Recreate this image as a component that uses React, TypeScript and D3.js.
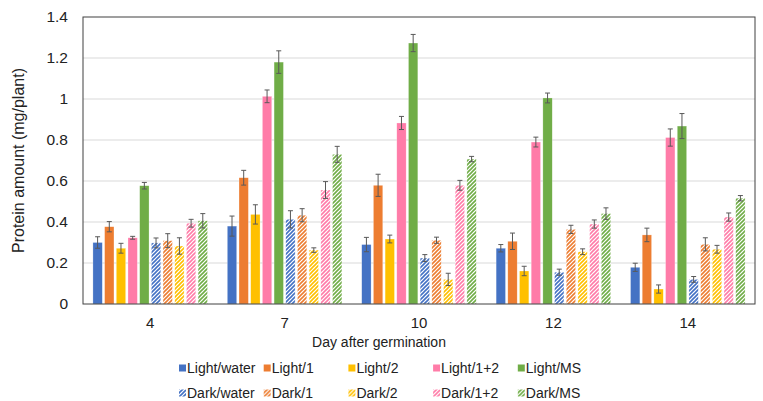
import React, { useEffect, useRef } from 'react';
import * as d3 from 'd3';

// Days on the x axis
const days = ['4', '7', '10', '12', '14'];

// Series names, in drawing order
const series = [
  'Light/water', 'Light/1', 'Light/2', 'Light/1+2', 'Light/MS',
  'Dark/water', 'Dark/1', 'Dark/2', 'Dark/1+2', 'Dark/MS',
];

// Mean protein amount (mg/plant), one row per series, one column per day
const lightWater = [0.30, 0.38, 0.29, 0.272, 0.179];
const light1 = [0.377, 0.616, 0.579, 0.306, 0.337];
const light2 = [0.272, 0.437, 0.317, 0.161, 0.073];
const light12 = [0.323, 1.013, 0.883, 0.79, 0.812];
const lightMS = [0.577, 1.18, 1.273, 1.005, 0.868];
const darkWater = [0.298, 0.413, 0.224, 0.155, 0.12];
const dark1 = [0.309, 0.433, 0.311, 0.364, 0.291];
const dark2 = [0.283, 0.263, 0.12, 0.255, 0.267];
const dark12 = [0.394, 0.556, 0.579, 0.39, 0.424];
const darkMS = [0.406, 0.73, 0.707, 0.441, 0.516];

// Error (+/-) for each bar
const errLightWater = [0.028, 0.049, 0.035, 0.018, 0.02];
const errLight1 = [0.025, 0.036, 0.054, 0.04, 0.033];
const errLight2 = [0.024, 0.047, 0.019, 0.023, 0.02];
const errLight12 = [0.007, 0.031, 0.032, 0.024, 0.042];
const errLightMS = [0.016, 0.055, 0.042, 0.024, 0.061];
const errDarkWater = [0.024, 0.042, 0.017, 0.015, 0.014];
const errDark1 = [0.034, 0.032, 0.015, 0.02, 0.032];
const errDark2 = [0.04, 0.011, 0.03, 0.014, 0.019];
const errDark12 = [0.019, 0.041, 0.024, 0.02, 0.02];
const errDarkMS = [0.035, 0.039, 0.013, 0.028, 0.013];

const yTicks = [0, 0.2, 0.4, 0.6, 0.8, 1, 1.2, 1.4];

const values = [lightWater, light1, light2, light12, lightMS, darkWater, dark1, dark2, dark12, darkMS];
const errors = [errLightWater, errLight1, errLight2, errLight12, errLightMS, errDarkWater, errDark1, errDark2, errDark12, errDarkMS];
const colors = ['#4472C4', '#ED7D31', '#FFC000', '#FF7CA8', '#70AD47'];

const App = () => {
  const svgRef = useRef<SVGSVGElement>(null);

  useEffect(() => {
    const svg = d3.select(svgRef.current);
    const width = 763;
    const height = 401;
    const margin = { top: 17, right: 8, bottom: 97, left: 83 };
    const font = '"Liberation Sans", Arial, sans-serif';

    svg.attr('width', width).attr('height', height);

    const x0 = d3.scaleBand().domain(days).range([margin.left, width - margin.right]).padding(0);
    const x1 = d3.scaleBand().domain(series).range([0, x0.bandwidth()]).paddingInner(0.2).paddingOuter(0.85);
    const y = d3.scaleLinear().domain([0, 1.4]).range([height - margin.bottom, margin.top]);

    // hatch patterns for the dark series
    const defs = svg.append('defs');
    colors.forEach((c, i) => {
      const p = defs.append('pattern')
        .attr('id', `hatch${i}`)
        .attr('patternUnits', 'userSpaceOnUse')
        .attr('width', 4)
        .attr('height', 4);
      p.append('rect').attr('width', 4).attr('height', 4).attr('fill', '#fff');
      p.append('path')
        .attr('d', 'M-1,1 l2,-2 M0,4 l4,-4 M3,5 l2,-2')
        .attr('stroke', c)
        .attr('stroke-width', 1.6);
    });

    const fillFor = (i: number) => (i < 5 ? colors[i] : `url(#hatch${i - 5})`);

    // gridlines
    svg.append('g')
      .selectAll('line')
      .data(yTicks.slice(1, -1))
      .enter()
      .append('line')
      .attr('x1', margin.left)
      .attr('x2', width - margin.right)
      .attr('y1', d => y(d))
      .attr('y2', d => y(d))
      .attr('stroke', '#d9d9d9')
      .attr('stroke-width', 1);

    // bars
    series.forEach((s, si) => {
      svg.append('g')
        .selectAll('rect')
        .data(days)
        .enter()
        .append('rect')
        .attr('x', d => (x0(d) as number) + (x1(s) as number))
        .attr('y', (d, di) => y(values[si][di]))
        .attr('width', x1.bandwidth())
        .attr('height', (d, di) => y(0) - y(values[si][di]))
        .attr('fill', fillFor(si))
        .attr('stroke', '#fff')
        .attr('stroke-opacity', 0.5)
        .attr('stroke-width', 0.5);
    });

    // error bars
    series.forEach((s, si) => {
      const g = svg.append('g').attr('stroke', '#595959').attr('stroke-width', 1);
      days.forEach((d, di) => {
        const cx = (x0(d) as number) + (x1(s) as number) + x1.bandwidth() / 2;
        const hi = y(values[si][di] + errors[si][di]);
        const lo = y(values[si][di] - errors[si][di]);
        g.append('line').attr('x1', cx).attr('x2', cx).attr('y1', hi).attr('y2', lo);
        g.append('line').attr('x1', cx - 2.5).attr('x2', cx + 2.5).attr('y1', hi).attr('y2', hi);
        g.append('line').attr('x1', cx - 2.5).attr('x2', cx + 2.5).attr('y1', lo).attr('y2', lo);
      });
    });

    // plot frame
    svg.append('rect')
      .attr('x', margin.left)
      .attr('y', margin.top)
      .attr('width', width - margin.left - margin.right)
      .attr('height', height - margin.top - margin.bottom)
      .attr('fill', 'none')
      .attr('stroke', '#404040')
      .attr('stroke-width', 1);

    // y tick labels
    svg.append('g')
      .selectAll('text')
      .data(yTicks)
      .enter()
      .append('text')
      .attr('x', 68)
      .attr('y', d => y(d))
      .attr('dy', '0.35em')
      .attr('text-anchor', 'end')
      .style('font-family', font)
      .style('font-size', '15.5px')
      .attr('fill', '#222')
      .text(d => String(d));

    // x tick labels
    svg.append('g')
      .selectAll('text')
      .data(days)
      .enter()
      .append('text')
      .attr('x', d => (x0(d) as number) + x0.bandwidth() / 2)
      .attr('y', 323)
      .attr('dy', '0.35em')
      .attr('text-anchor', 'middle')
      .style('font-family', font)
      .style('font-size', '15px')
      .attr('fill', '#222')
      .text(d => d);

    // axis titles
    svg.append('text')
      .attr('x', 379)
      .attr('y', 342)
      .attr('dy', '0.35em')
      .attr('text-anchor', 'middle')
      .style('font-family', font)
      .style('font-size', '14px')
      .attr('fill', '#222')
      .text('Day after germination');

    svg.append('text')
      .attr('transform', `translate(18,${(margin.top + height - margin.bottom) / 2}) rotate(-90)`)
      .attr('dy', '0.35em')
      .attr('text-anchor', 'middle')
      .style('font-family', font)
      .style('font-size', '16px')
      .attr('fill', '#222')
      .text('Protein amount (mg/plant)');

    // legend
    const legend = svg.selectAll('.legend')
      .data(series)
      .enter()
      .append('g')
      .attr('class', 'legend')
      .attr('transform', (d, i) => `translate(${179 + (i % 5) * 84.7},${i < 5 ? 368 : 393})`);

    legend.append('rect')
      .attr('x', 0)
      .attr('y', -3.5)
      .attr('width', 7)
      .attr('height', 7)
      .attr('fill', (d, i) => fillFor(i));

    legend.append('text')
      .attr('x', 8)
      .attr('y', 0)
      .attr('dy', '0.35em')
      .style('font-family', font)
      .style('font-size', '14px')
      .attr('fill', '#222')
      .text(d => d);

    return () => { svg.selectAll('*').remove(); };
  }, []);

  return <svg ref={svgRef} style={{ position: 'absolute', left: 0, top: 0 }}></svg>;
};

export default App;
